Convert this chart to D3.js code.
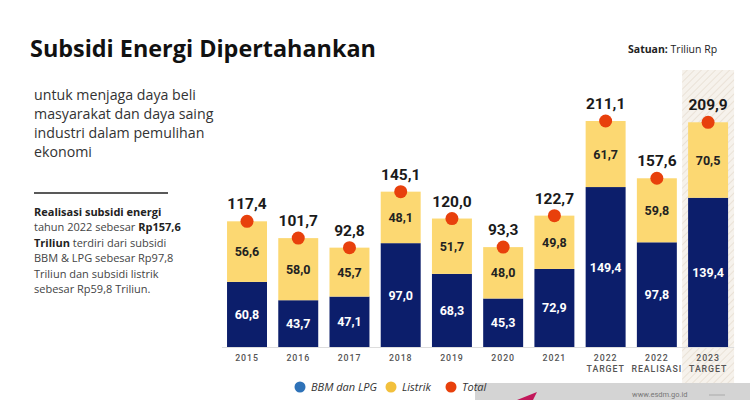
<!DOCTYPE html>
<html>
<head>
<meta charset="utf-8">
<script src="https://cdn.jsdelivr.net/npm/d3@7"></script>
<style>
  body { margin: 0; background: #fff; }
  svg { display: block; }
</style>
</head>
<body>
<svg id="chart" width="750" height="400"></svg>
<script>
// data (Triliun Rp)
const years = [["2015"], ["2016"], ["2017"], ["2018"], ["2019"], ["2020"], ["2021"],
  ["2022", "TARGET"], ["2022", "REALISASI"], ["2023", "TARGET"]]
const bbm = [60.8, 43.7, 47.1, 97.0, 68.3, 45.3, 72.9, 149.4, 97.8, 139.4]
const listrik = [56.6, 58.0, 45.7, 48.1, 51.7, 48.0, 49.8, 61.7, 59.8, 70.5]
const total = [117.4, 101.7, 92.8, 145.1, 120.0, 93.3, 122.7, 211.1, 157.6, 209.9]
const legendLabels = ["BBM dan LPG", "Listrik", "Total"]
const introLines = ["untuk menjaga daya beli", "masyarakat dan daya saing",
  "industri dalam pemulihan", "ekonomi"]

const navy = "#0c1e6b", yellow = "#fcd872", red = "#e8400c"
const svg = d3.select("#chart")
const keys = years.map(d => d.join(" "))
const fmt = d3.formatLocale({ decimal: ",", thousands: ".", grouping: [3], currency: ["", ""] }).format(".1f")

const x = d3.scaleBand().domain(keys).range([221.4, 733.7]).paddingInner(0.22).paddingOuter(0.11)
const y = d3.scaleLinear().domain([0, 211.1]).range([347, 121])

// hatch behind 2023
const defs = svg.append("defs")
const pat = defs.append("pattern").attr("id", "hatch").attr("patternUnits", "userSpaceOnUse")
  .attr("width", 5).attr("height", 5).attr("patternTransform", "rotate(45)")
pat.append("rect").attr("width", 5).attr("height", 5).attr("fill", "#f6f2ec")
pat.append("line").attr("x1", 0).attr("y1", 0).attr("x2", 0).attr("y2", 5)
  .attr("stroke", "#e6ddd0").attr("stroke-width", 1.5)
const last = keys[keys.length - 1]
svg.append("rect")
  .attr("x", x(last) - 6).attr("y", 70)
  .attr("width", x.bandwidth() + 12).attr("height", 313)
  .attr("fill", "url(#hatch)")

// title
svg.append("text").attr("x", 30).attr("y", 57)
  .attr("font-family", "Open Sans").attr("font-weight", 700).attr("font-size", 24)
  .attr("fill", "#111").attr("textLength", 346).attr("lengthAdjust", "spacingAndGlyphs")
  .text("Subsidi Energi Dipertahankan")

const sat = svg.append("text").attr("x", 628).attr("y", 53)
  .attr("font-family", "Open Sans").attr("font-size", 10.5).attr("fill", "#222")
sat.append("tspan").attr("font-weight", 700).text("Satuan: ")
sat.append("tspan").text("Triliun Rp")

svg.append("g").selectAll("text").data(introLines).join("text")
  .attr("x", 34).attr("y", (d, i) => 100 + i * 19)
  .attr("font-family", "Open Sans").attr("font-size", 14.2).attr("fill", "#333")
  .text(d => d)

svg.append("line").attr("x1", 34).attr("x2", 168).attr("y1", 193).attr("y2", 193)
  .attr("stroke", "#222").attr("stroke-width", 1.5)

// paragraph with bold runs
const para = [
  [["Realisasi subsidi energi", true]],
  [["tahun 2022 sebesar ", false], ["Rp157,6", true]],
  [["Triliun", true], [" terdiri dari subsidi", false]],
  [["BBM & LPG sebesar  Rp97,8", false]],
  [["Triliun dan subsidi listrik", false]],
  [["sebesar  Rp59,8 Triliun.", false]]
]
para.forEach((line, i) => {
  const t = svg.append("text").attr("x", 34).attr("y", 216 + i * 15.4)
    .attr("font-family", "Open Sans").attr("font-size", 11).attr("fill", "#444")
  line.forEach(([s, b]) => t.append("tspan").attr("font-weight", b ? 700 : 400)
    .attr("fill", b ? "#222" : "#444").text(s))
})

// bars
const g = svg.append("g")
const bars = g.selectAll("g.col").data(keys).join("g").attr("class", "col")
bars.append("rect")
  .attr("x", d => x(d)).attr("width", x.bandwidth())
  .attr("y", (d, i) => y(bbm[i])).attr("height", (d, i) => y(0) - y(bbm[i]))
  .attr("fill", navy)
bars.append("rect")
  .attr("x", d => x(d)).attr("width", x.bandwidth())
  .attr("y", (d, i) => y(total[i])).attr("height", (d, i) => y(bbm[i]) - y(total[i]))
  .attr("fill", yellow)
bars.append("text")
  .attr("x", d => x(d) + x.bandwidth() / 2)
  .attr("y", (d, i) => (y(0) + y(bbm[i])) / 2 + 4.5)
  .attr("text-anchor", "middle").attr("font-family", "Roboto").attr("font-weight", 700)
  .attr("font-size", 12.5).attr("fill", "#fff")
  .text((d, i) => fmt(bbm[i]))
bars.append("text")
  .attr("x", d => x(d) + x.bandwidth() / 2)
  .attr("y", (d, i) => (y(bbm[i]) + y(total[i])) / 2 + 4.5)
  .attr("text-anchor", "middle").attr("font-family", "Roboto").attr("font-weight", 700)
  .attr("font-size", 12.5).attr("fill", "#222")
  .text((d, i) => fmt(listrik[i]))
bars.append("circle")
  .attr("cx", d => x(d) + x.bandwidth() / 2).attr("cy", (d, i) => y(total[i]))
  .attr("r", 6.5).attr("fill", red)
bars.append("text")
  .attr("x", d => x(d) + x.bandwidth() / 2)
  .attr("y", (d, i) => y(total[i]) - 12)
  .attr("text-anchor", "middle").attr("font-family", "Roboto").attr("font-weight", 700)
  .attr("font-size", 15.5).attr("fill", "#1a1a1a")
  .text((d, i) => fmt(total[i]))

// x axis
const ax = svg.append("g").attr("transform", `translate(0,${y(0)})`)
  .call(d3.axisBottom(x).tickSize(0).tickSizeOuter(0).tickFormat(""))
ax.select(".domain").attr("stroke", "#ddd")
ax.selectAll(".tick").append("text")
  .attr("text-anchor", "middle").attr("fill", "#555")
  .attr("font-family", "Roboto").attr("font-weight", 500).attr("font-size", 8.8)
  .attr("letter-spacing", 0.9)
  .selectAll("tspan").data((d, i) => years[i]).join("tspan")
  .attr("x", 0).attr("y", (d, i) => 14 + i * 11).text(d => d)

// footer overlay
svg.append("rect").attr("x", 475).attr("y", 383).attr("width", 275).attr("height", 17).attr("fill", "#d4d4d4")
svg.append("path").attr("d", "M517,400 L537,392 L533,400 Z").attr("fill", "#c2185b")
svg.append("text").attr("x", 632).attr("y", 397).attr("font-family", "Roboto")
  .attr("font-size", 7.5).attr("fill", "#777").text("www.esdm.go.id")
svg.append("line").attr("x1", 709).attr("x2", 725).attr("y1", 395).attr("y2", 395).attr("stroke", "#aaa")

// legend
const legendColors = ["#2e72b8", "#f2c03c", red]
const legendX = [300, 391, 451]
const lg = svg.append("g").selectAll("g").data(legendLabels).join("g")
  .attr("transform", (d, i) => `translate(${legendX[i]},387)`)
lg.append("circle").attr("r", 5.5).attr("fill", (d, i) => legendColors[i])
lg.append("text").attr("x", 11).attr("y", 4)
  .attr("font-family", "Open Sans").attr("font-style", "italic").attr("font-size", 11)
  .attr("fill", "#333").text(d => d)
</script>
</body>
</html>
